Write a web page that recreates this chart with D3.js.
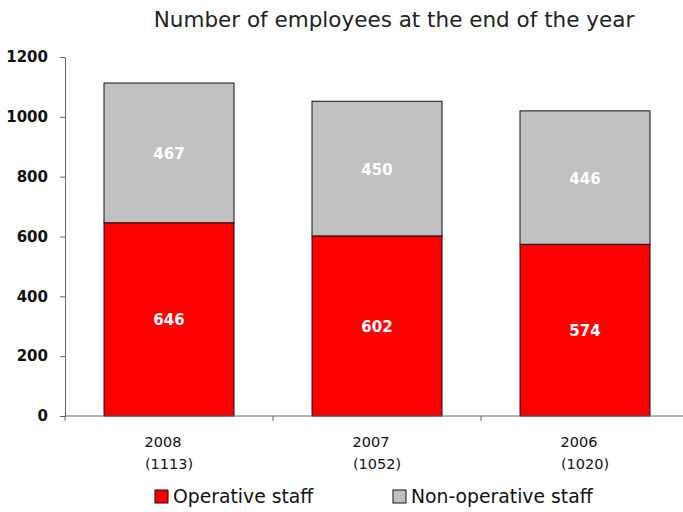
<!DOCTYPE html>
<html>
<head>
<meta charset="utf-8">
<script src="https://cdn.jsdelivr.net/npm/d3@7"></script>
<style>
  html, body { margin: 0; padding: 0; background: #fff; }
  svg { display: block; }
</style>
</head>
<body>
<svg id="chart" width="683" height="512"></svg>
<script>
// Employee headcount at year end, split by staff type
const years = ["2008", "2007", "2006"];
const operative = [646, 602, 574];
const nonOperative = [467, 450, 446];
const yTicks = [0, 200, 400, 600, 800, 1000, 1200];
const seriesNames = ["Operative staff", "Non-operative staff"];
const seriesColors = ["#ff0000", "#c0c0c0"];

const svg = d3.select("#chart");
const margin = { left: 65, top: 57, bottom: 96 };
const plotH = 512 - margin.top - margin.bottom;   // 359
const bandW = 208;

const x = d3.scaleBand()
  .domain(years)
  .range([margin.left, margin.left + bandW * years.length])
  .paddingInner(0.375)
  .paddingOuter(0.1875);

const y = d3.scaleLinear().domain([0, 1200]).range([margin.top + plotH, margin.top]);

const rows = years.map((yr, i) => ({ year: yr, operative: operative[i], nonOperative: nonOperative[i] }));
const stack = d3.stack().keys(["operative", "nonOperative"])(rows);

// Title
svg.append("text")
  .attr("x", 394).attr("y", 27)
  .attr("text-anchor", "middle")
  .attr("font-family", "DejaVu Sans, sans-serif")
  .attr("font-size", 21.5)
  .attr("fill", "#222")
  .text("Number of employees at the end of the year");

// Stacked bars
const layers = svg.append("g").selectAll("g")
  .data(stack).join("g")
  .attr("fill", (d, i) => seriesColors[i]);

layers.selectAll("rect")
  .data(d => d).join("rect")
  .attr("x", d => x(d.data.year))
  .attr("width", x.bandwidth())
  .attr("y", d => y(d[1]))
  .attr("height", d => y(d[0]) - y(d[1]))
  .attr("stroke", "#111")
  .attr("stroke-width", 1);

// Value labels inside segments
layers.selectAll("text")
  .data(d => d).join("text")
  .attr("x", d => x(d.data.year) + x.bandwidth() / 2)
  .attr("y", d => (y(d[0]) + y(d[1])) / 2 + 6)
  .attr("text-anchor", "middle")
  .attr("font-family", "DejaVu Sans, sans-serif")
  .attr("font-size", 15)
  .attr("font-weight", "bold")
  .attr("fill", "#fff")
  .text(d => d[1] - d[0]);

// Y axis
const yAxis = svg.append("g")
  .attr("transform", `translate(${margin.left},0)`)
  .call(d3.axisLeft(y).tickValues(yTicks).tickFormat(d3.format("d"))
    .tickSize(5).tickPadding(12).tickSizeOuter(0));
yAxis.select(".domain").attr("stroke", "#666");
yAxis.selectAll(".tick line").attr("stroke", "#666");
yAxis.selectAll(".tick text")
  .attr("font-family", "DejaVu Sans, sans-serif")
  .attr("font-size", 15)
  .attr("font-weight", "bold")
  .attr("fill", "#111");

// X axis: baseline with ticks between categories
const xBase = y(0);
const xAxis = svg.append("g");
xAxis.append("line")
  .attr("x1", margin.left).attr("x2", margin.left + bandW * years.length)
  .attr("y1", xBase).attr("y2", xBase)
  .attr("stroke", "#666");
const seps = d3.range(years.length).map(i => margin.left + bandW * i);
xAxis.selectAll("line.sep")
  .data(seps).join("line")
  .attr("class", "sep")
  .attr("x1", d => d).attr("x2", d => d)
  .attr("y1", xBase).attr("y2", xBase + 5)
  .attr("stroke", "#666");

// Category labels: year and total headcount
const catLabels = xAxis.selectAll("text.cat")
  .data(rows).join("text")
  .attr("class", "cat")
  .attr("font-family", "DejaVu Sans, sans-serif")
  .attr("font-size", 14.5)
  .attr("fill", "#111")
  .attr("text-anchor", "middle");
catLabels.append("tspan")
  .attr("x", d => x(d.year) + x.bandwidth() / 2 - 6)
  .attr("y", xBase + 31)
  .text(d => d.year);
catLabels.append("tspan")
  .attr("x", d => x(d.year) + x.bandwidth() / 2)
  .attr("y", xBase + 53)
  .text(d => `(${d.operative + d.nonOperative})`);

// Legend
const legendX = [155, 393];
const legend = svg.append("g").selectAll("g")
  .data(seriesNames).join("g")
  .attr("transform", (d, i) => `translate(${legendX[i]},490)`);
legend.append("rect")
  .attr("width", 13).attr("height", 13)
  .attr("fill", (d, i) => seriesColors[i])
  .attr("stroke", "#111");
legend.append("text")
  .attr("x", 18).attr("y", 13)
  .attr("font-family", "DejaVu Sans, sans-serif")
  .attr("font-size", 18.8)
  .attr("fill", "#111")
  .text(d => d);
</script>
</body>
</html>
